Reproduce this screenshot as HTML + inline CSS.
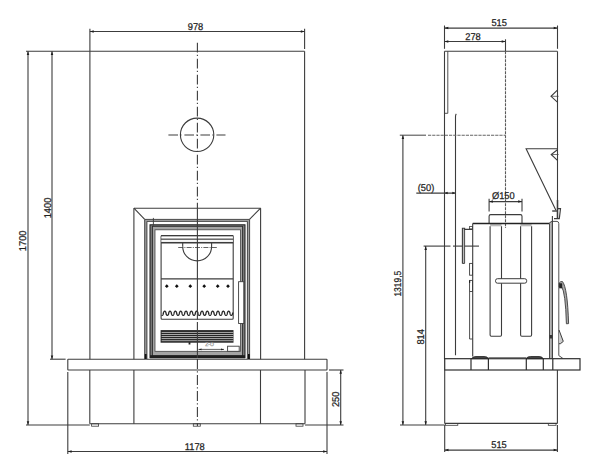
<!DOCTYPE html>
<html><head><meta charset="utf-8"><style>
html,body{margin:0;padding:0;background:#fff;}
svg{display:block;font-family:"Liberation Sans",sans-serif;text-rendering:geometricPrecision;}
</style></head><body>
<svg width="600" height="474" viewBox="0 0 600 474">
<rect width="600" height="474" fill="#fff"/>
<line x1="89.9" y1="28.8" x2="89.9" y2="51.3" stroke="#3c3c3c" stroke-width="1.1"/>
<line x1="304.6" y1="28.8" x2="304.6" y2="49" stroke="#3c3c3c" stroke-width="1.1"/>
<line x1="89.9" y1="31.5" x2="304.6" y2="31.5" stroke="#3c3c3c" stroke-width="1.1"/>
<polygon points="89.9,31.5 93.7,30.25 93.7,32.75" fill="#1e1e1e"/>
<polygon points="304.6,31.5 300.8,30.25 300.8,32.75" fill="#1e1e1e"/>
<g><text x="205.79" y="29.8" transform="scale(0.95 1)" font-size="9.8" text-anchor="middle" fill="#222" stroke="#222" stroke-width="0.25">978</text></g>
<line x1="26" y1="51.3" x2="304.6" y2="51.3" stroke="#3c3c3c" stroke-width="1.1"/>
<line x1="89.9" y1="51.3" x2="89.9" y2="359.2" stroke="#3c3c3c" stroke-width="1.1"/>
<line x1="304.6" y1="51.3" x2="304.6" y2="359.2" stroke="#3c3c3c" stroke-width="1.1"/>
<line x1="28" y1="51.3" x2="28" y2="425" stroke="#3c3c3c" stroke-width="1.1"/>
<polygon points="28,51.3 26.75,55.1 29.25,55.1" fill="#1e1e1e"/>
<polygon points="28,425 26.75,421.2 29.25,421.2" fill="#1e1e1e"/>
<line x1="52" y1="51.3" x2="52" y2="359.2" stroke="#3c3c3c" stroke-width="1.1"/>
<polygon points="52,51.3 50.75,55.1 53.25,55.1" fill="#1e1e1e"/>
<polygon points="52,359.2 50.75,355.4 53.25,355.4" fill="#1e1e1e"/>
<line x1="50" y1="359.2" x2="65.6" y2="359.2" stroke="#3c3c3c" stroke-width="1.1"/>
<g transform="rotate(-90 26.2 240.8)"><text x="27.58" y="240.8" transform="scale(0.95 1)" font-size="9.8" text-anchor="middle" fill="#222" stroke="#222" stroke-width="0.25">1700</text></g>
<g transform="rotate(-90 50.6 208)"><text x="53.26" y="208" transform="scale(0.95 1)" font-size="9.8" text-anchor="middle" fill="#222" stroke="#222" stroke-width="0.25">1400</text></g>
<rect x="67.8" y="359.2" width="259.2" height="10.8" stroke="#3c3c3c" stroke-width="1.1" fill="none" rx="0.5"/>
<line x1="89.8" y1="370" x2="89.8" y2="423.8" stroke="#3c3c3c" stroke-width="1.1"/>
<line x1="305" y1="370" x2="305" y2="423.8" stroke="#3c3c3c" stroke-width="1.1"/>
<line x1="89.8" y1="423.8" x2="305" y2="423.8" stroke="#3c3c3c" stroke-width="1.1"/>
<line x1="26" y1="425" x2="89.8" y2="425" stroke="#3c3c3c" stroke-width="1.1"/>
<line x1="133.9" y1="370" x2="133.9" y2="423.8" stroke="#3c3c3c" stroke-width="1.1"/>
<line x1="260.5" y1="370" x2="260.5" y2="423.8" stroke="#3c3c3c" stroke-width="1.1"/>
<rect x="91.6" y="423.8" width="7" height="2.4" stroke="#3c3c3c" stroke-width="0.8" fill="none" rx="0"/>
<rect x="193.3" y="423.8" width="7" height="2.4" stroke="#3c3c3c" stroke-width="0.8" fill="none" rx="0"/>
<rect x="296" y="423.8" width="7" height="2.4" stroke="#3c3c3c" stroke-width="0.8" fill="none" rx="0"/>
<line x1="329" y1="370" x2="343.5" y2="370" stroke="#3c3c3c" stroke-width="1.1"/>
<line x1="305" y1="425" x2="343.5" y2="425" stroke="#3c3c3c" stroke-width="1.1"/>
<line x1="340.7" y1="370" x2="340.7" y2="425" stroke="#3c3c3c" stroke-width="1.1"/>
<polygon points="340.7,370 339.45,373.8 341.95,373.8" fill="#1e1e1e"/>
<polygon points="340.7,425 339.45,421.2 341.95,421.2" fill="#1e1e1e"/>
<g transform="rotate(-90 339 399.3)"><text x="356.84" y="399.3" transform="scale(0.95 1)" font-size="9.8" text-anchor="middle" fill="#222" stroke="#222" stroke-width="0.25">250</text></g>
<line x1="67.8" y1="372" x2="67.8" y2="454" stroke="#3c3c3c" stroke-width="1.1"/>
<line x1="327" y1="372" x2="327" y2="454" stroke="#3c3c3c" stroke-width="1.1"/>
<line x1="67.8" y1="451.5" x2="327" y2="451.5" stroke="#3c3c3c" stroke-width="1.1"/>
<polygon points="67.8,451.5 71.6,450.25 71.6,452.75" fill="#1e1e1e"/>
<polygon points="327,451.5 323.2,450.25 323.2,452.75" fill="#1e1e1e"/>
<g><text x="205.05" y="449.7" transform="scale(0.95 1)" font-size="9.8" text-anchor="middle" fill="#222" stroke="#222" stroke-width="0.25">1178</text></g>
<circle cx="197.1" cy="134.8" r="16.7" fill="none" stroke="#3c3c3c" stroke-width="1.1"/>
<line x1="168.4" y1="135" x2="225.5" y2="135" stroke="#3c3c3c" stroke-width="1.1" stroke-dasharray="9.6 2.3 1.2 2.9"/>
<line x1="133.9" y1="208.2" x2="260.6" y2="208.2" stroke="#3c3c3c" stroke-width="1.1"/>
<line x1="133.9" y1="208.2" x2="133.9" y2="359.2" stroke="#3c3c3c" stroke-width="1.1"/>
<line x1="260.6" y1="208.2" x2="260.6" y2="359.2" stroke="#3c3c3c" stroke-width="1.1"/>
<line x1="133.9" y1="208.2" x2="144.7" y2="219.3" stroke="#3c3c3c" stroke-width="1.1"/>
<line x1="260.6" y1="208.2" x2="249.5" y2="219.3" stroke="#3c3c3c" stroke-width="1.1"/>
<rect x="144.5" y="219.3" width="105.5" height="2.2" fill="#a8a8a8"/>
<rect x="144.5" y="219.3" width="2.6" height="140" fill="#a0a0a0"/>
<rect x="247.2" y="219.3" width="2.6" height="140" fill="#a0a0a0"/>
<line x1="144.7" y1="219.4" x2="249.6" y2="219.4" stroke="#3c3c3c" stroke-width="0.9"/>
<line x1="146.9" y1="221.4" x2="247.4" y2="221.4" stroke="#3c3c3c" stroke-width="0.9"/>
<line x1="144.7" y1="219.4" x2="144.7" y2="359.2" stroke="#3c3c3c" stroke-width="0.9"/>
<line x1="146.9" y1="221.4" x2="146.9" y2="359.2" stroke="#3c3c3c" stroke-width="0.9"/>
<line x1="249.6" y1="219.4" x2="249.6" y2="359.2" stroke="#3c3c3c" stroke-width="0.9"/>
<line x1="247.4" y1="221.4" x2="247.4" y2="359.2" stroke="#3c3c3c" stroke-width="0.9"/>
<rect x="150" y="224.8" width="95" height="132.8" fill="#7c7c7c"/>
<rect x="152.4" y="226.3" width="90.2" height="129.5" fill="#a4a4a4"/>
<rect x="155" y="229.8" width="85.5" height="121.5" fill="#ffffff"/>
<rect x="150" y="224.8" width="95" height="132.8" stroke="#1a1a1a" stroke-width="1" fill="none" rx="0"/>
<rect x="152.4" y="226.3" width="90.2" height="129.7" stroke="#2a2a2a" stroke-width="0.9" fill="none" rx="0"/>
<rect x="155" y="229.8" width="85.5" height="121.5" stroke="#444" stroke-width="0.8" fill="none" rx="0"/>
<rect x="150" y="355.2" width="95" height="3" fill="#1e1e1e"/>
<line x1="153.4" y1="217.9" x2="153.4" y2="225.5" stroke="#3c3c3c" stroke-width="0.9"/>
<rect x="144.8" y="354" width="1.8" height="5" fill="#111"/>
<rect x="248" y="354" width="1.8" height="5" fill="#111"/>
<rect x="161.1" y="235.6" width="72.1" height="83.6" stroke="#3c3c3c" stroke-width="1.1" fill="none" rx="1"/>
<rect x="161.6" y="236.1" width="71.1" height="6.5" fill="#d8d8d8"/>
<rect x="161.6" y="236.6" width="71.1" height="1.6" fill="#fff"/>
<rect x="161.6" y="240.2" width="71.1" height="1.4" fill="#fff"/>
<line x1="161.1" y1="235.6" x2="233.2" y2="235.6" stroke="#3c3c3c" stroke-width="1.1"/>
<line x1="161.1" y1="239.2" x2="233.2" y2="239.2" stroke="#3c3c3c" stroke-width="1"/>
<line x1="161.1" y1="242.8" x2="233.2" y2="242.8" stroke="#3c3c3c" stroke-width="1.4"/>
<line x1="161.1" y1="278.9" x2="233.2" y2="278.9" stroke="#3c3c3c" stroke-width="1.1"/>
<path d="M182.7,246.4 A14.4,14.4 0 0 0 211.6,246.4 L211.6,243" stroke="#3c3c3c" stroke-width="1.1" fill="none"/>
<path d="M182.7,246.4 L182.7,243" stroke="#3c3c3c" stroke-width="1.1" fill="none"/>
<line x1="178.2" y1="247.5" x2="217" y2="247.5" stroke="#3c3c3c" stroke-width="0.8" stroke-dasharray="5 1.2 1 1.2"/>
<path d="M164.9,286.2 L166.8,284.3 L168.7,286.2 L166.8,288.1 Z" fill="#111"/>
<path d="M174.9,286.2 L176.8,284.3 L178.7,286.2 L176.8,288.1 Z" fill="#111"/>
<path d="M188.4,286.2 L190.3,284.3 L192.2,286.2 L190.3,288.1 Z" fill="#111"/>
<path d="M202.3,286.2 L204.2,284.3 L206.1,286.2 L204.2,288.1 Z" fill="#111"/>
<path d="M215.8,286.2 L217.7,284.3 L219.6,286.2 L217.7,288.1 Z" fill="#111"/>
<path d="M226.1,286.2 L228,284.3 L229.9,286.2 L228,288.1 Z" fill="#111"/>
<polyline points="161.6,315.25 161.74,315.33 161.88,315.38 162.03,315.4 162.17,315.39 162.31,315.34 162.45,315.26 162.6,315.14 162.74,314.99 162.88,314.8 163.02,314.56 163.17,314.25 163.31,313.78 163.45,312.71 163.59,312.29 163.74,312 163.88,311.76 164.02,311.58 164.16,311.43 164.31,311.33 164.45,311.25 164.59,311.21 164.73,311.2 164.88,311.22 165.02,311.28 165.16,311.37 165.3,311.5 165.44,311.66 165.59,311.86 165.73,312.12 165.87,312.46 166.01,313.05 166.16,314.03 166.3,314.4 166.44,314.68 166.58,314.89 166.73,315.07 166.87,315.2 167.01,315.3 167.15,315.36 167.3,315.4 167.44,315.4 167.58,315.36 167.72,315.3 167.87,315.2 168.01,315.06 168.15,314.89 168.29,314.67 168.44,314.39 168.58,314.01 168.72,313.01 168.86,312.45 169,312.11 169.15,311.86 169.29,311.65 169.43,311.49 169.57,311.37 169.72,311.28 169.86,311.22 170,311.2 170.14,311.21 170.29,311.25 170.43,311.33 170.57,311.44 170.71,311.58 170.86,311.77 171,312 171.14,312.3 171.28,312.73 171.43,313.8 171.57,314.26 171.71,314.57 171.85,314.81 172,315 172.14,315.15 172.28,315.26 172.42,315.34 172.56,315.39 172.71,315.4 172.85,315.38 172.99,315.33 173.13,315.24 173.28,315.12 173.42,314.97 173.56,314.77 173.7,314.52 173.85,314.19 173.99,313.68 174.13,312.64 174.27,312.24 174.42,311.96 174.56,311.74 174.7,311.56 174.84,311.42 174.99,311.31 175.13,311.24 175.27,311.21 175.41,311.2 175.56,311.23 175.7,311.29 175.84,311.39 175.98,311.52 176.12,311.68 176.27,311.9 176.41,312.16 176.55,312.52 176.69,313.37 176.84,314.09 176.98,314.44 177.12,314.71 177.26,314.92 177.41,315.09 177.55,315.22 177.69,315.31 177.83,315.37 177.98,315.4 178.12,315.39 178.26,315.36 178.4,315.28 178.55,315.18 178.69,315.04 178.83,314.86 178.97,314.63 179.12,314.35 179.26,313.95 179.4,312.9 179.54,312.4 179.68,312.07 179.83,311.83 179.97,311.63 180.11,311.47 180.25,311.35 180.4,311.27 180.54,311.22 180.68,311.2 180.82,311.21 180.97,311.26 181.11,311.34 181.25,311.46 181.39,311.61 181.54,311.8 181.68,312.04 181.82,312.35 181.96,312.81 182.11,313.88 182.25,314.31 182.39,314.6 182.53,314.84 182.68,315.02 182.82,315.17 182.96,315.27 183.1,315.35 183.24,315.39 183.39,315.4 183.53,315.38 183.67,315.32 183.81,315.23 183.96,315.1 184.1,314.94 184.24,314.74 184.38,314.48 184.53,314.14 184.67,313.56 184.81,312.57 184.95,312.2 185.1,311.92 185.24,311.71 185.38,311.53 185.52,311.4 185.67,311.3 185.81,311.24 185.95,311.2 186.09,311.2 186.24,311.24 186.38,311.3 186.52,311.4 186.66,311.54 186.8,311.71 186.95,311.93 187.09,312.21 187.23,312.58 187.37,313.58 187.52,314.15 187.66,314.49 187.8,314.74 187.94,314.95 188.09,315.11 188.23,315.23 188.37,315.32 188.51,315.38 188.66,315.4 188.8,315.39 188.94,315.35 189.08,315.27 189.23,315.16 189.37,315.02 189.51,314.83 189.65,314.6 189.8,314.3 189.94,313.87 190.08,312.8 190.22,312.34 190.36,312.03 190.51,311.79 190.65,311.6 190.79,311.45 190.93,311.34 191.08,311.26 191.22,311.21 191.36,311.2 191.5,311.22 191.65,311.27 191.79,311.36 191.93,311.48 192.07,311.63 192.22,311.83 192.36,312.08 192.5,312.4 192.64,312.91 192.79,313.96 192.93,314.35 193.07,314.64 193.21,314.86 193.36,315.04 193.5,315.18 193.64,315.29 193.78,315.36 193.92,315.39 194.07,315.4 194.21,315.37 194.35,315.31 194.49,315.21 194.64,315.08 194.78,314.92 194.92,314.7 195.06,314.44 195.21,314.08 195.35,313.24 195.49,312.51 195.63,312.16 195.78,311.89 195.92,311.68 196.06,311.51 196.2,311.38 196.35,311.29 196.49,311.23 196.63,311.2 196.77,311.21 196.92,311.24 197.06,311.32 197.2,311.42 197.34,311.56 197.48,311.74 197.63,311.97 197.77,312.25 197.91,312.65 198.05,313.7 198.2,314.2 198.34,314.53 198.48,314.77 198.62,314.97 198.77,315.13 198.91,315.25 199.05,315.33 199.19,315.38 199.34,315.4 199.48,315.39 199.62,315.34 199.76,315.26 199.91,315.14 200.05,314.99 200.19,314.8 200.33,314.56 200.48,314.25 200.62,313.79 200.76,312.72 200.9,312.29 201.04,312 201.19,311.77 201.33,311.58 201.47,311.44 201.61,311.33 201.76,311.25 201.9,311.21 202.04,311.2 202.18,311.22 202.33,311.28 202.47,311.37 202.61,311.5 202.75,311.66 202.9,311.86 203.04,312.12 203.18,312.46 203.32,313.04 203.47,314.02 203.61,314.4 203.75,314.67 203.89,314.89 204.04,315.06 204.18,315.2 204.32,315.3 204.46,315.36 204.6,315.4 204.75,315.4 204.89,315.36 205.03,315.3 205.17,315.2 205.32,315.06 205.46,314.89 205.6,314.67 205.74,314.39 205.89,314.02 206.03,313.02 206.17,312.45 206.31,312.12 206.46,311.86 206.6,311.65 206.74,311.49 206.88,311.37 207.03,311.28 207.17,311.22 207.31,311.2 207.45,311.21 207.6,311.25 207.74,311.33 207.88,311.44 208.02,311.58 208.16,311.77 208.31,312 208.45,312.3 208.59,312.73 208.73,313.8 208.88,314.25 209.02,314.56 209.16,314.8 209.3,315 209.45,315.15 209.59,315.26 209.73,315.34 209.87,315.39 210.02,315.4 210.16,315.38 210.3,315.33 210.44,315.24 210.59,315.13 210.73,314.97 210.87,314.77 211.01,314.52 211.16,314.2 211.3,313.69 211.44,312.64 211.58,312.25 211.72,311.96 211.87,311.74 212.01,311.56 212.15,311.42 212.29,311.31 212.44,311.24 212.58,311.21 212.72,311.2 212.86,311.23 213.01,311.29 213.15,311.39 213.29,311.52 213.43,311.68 213.58,311.89 213.72,312.16 213.86,312.52 214,313.34 214.15,314.09 214.29,314.44 214.43,314.71 214.57,314.92 214.72,315.09 214.86,315.22 215,315.31 215.14,315.37 215.28,315.4 215.43,315.39 215.57,315.36 215.71,315.29 215.85,315.18 216,315.04 216.14,314.86 216.28,314.64 216.42,314.35 216.57,313.95 216.71,312.9 216.85,312.4 216.99,312.08 217.14,311.83 217.28,311.63 217.42,311.47 217.56,311.35 217.71,311.27 217.85,311.22 217.99,311.2 218.13,311.21 218.28,311.26 218.42,311.34 218.56,311.46 218.7,311.61 218.84,311.8 218.99,312.04 219.13,312.35 219.27,312.81 219.41,313.88 219.56,314.3 219.7,314.6 219.84,314.83 219.98,315.02 220.13,315.16 220.27,315.27 220.41,315.35 220.55,315.39 220.7,315.4 220.84,315.38 220.98,315.32 221.12,315.23 221.27,315.11 221.41,314.94 221.55,314.74 221.69,314.48 221.84,314.14 221.98,313.57 222.12,312.58 222.26,312.2 222.4,311.93 222.55,311.71 222.69,311.54 222.83,311.4 222.97,311.3 223.12,311.24 223.26,311.2 223.4,311.2 223.54,311.24 223.69,311.3 223.83,311.4 223.97,311.54 224.11,311.71 224.26,311.93 224.4,312.2 224.54,312.58 224.68,313.57 224.83,314.15 224.97,314.48 225.11,314.74 225.25,314.94 225.4,315.11 225.54,315.23 225.68,315.32 225.82,315.38 225.96,315.4 226.11,315.39 226.25,315.35 226.39,315.27 226.53,315.16 226.68,315.02 226.82,314.83 226.96,314.6 227.1,314.3 227.25,313.88 227.39,312.81 227.53,312.35 227.67,312.04 227.82,311.8 227.96,311.61 228.1,311.45 228.24,311.34 228.39,311.26 228.53,311.21 228.67,311.2 228.81,311.22 228.96,311.27 229.1,311.36 229.24,311.47 229.38,311.63 229.52,311.83 229.67,312.08 229.81,312.4 229.95,312.91 230.09,313.95 230.24,314.35 230.38,314.64 230.52,314.86 230.66,315.04 230.81,315.18 230.95,315.29 231.09,315.36 231.23,315.39 231.38,315.4 231.52,315.37 231.66,315.31 231.8,315.21 231.95,315.08 232.09,314.92 232.23,314.71 232.37,314.44 232.52,314.08 232.66,313.29 232.8,312.51" fill="none" stroke="#2a2a2a" stroke-width="1.3"/>
<rect x="160.6" y="330.1" width="72.9" height="12.6" fill="#262626"/>
<rect x="161.6" y="331.95" width="71.9" height="0.9" fill="#b8b8b8"/>
<rect x="161.6" y="334.05" width="71.9" height="0.9" fill="#b8b8b8"/>
<rect x="161.6" y="336.05" width="71.9" height="0.9" fill="#b8b8b8"/>
<rect x="161.6" y="338.15" width="71.9" height="0.9" fill="#b8b8b8"/>
<rect x="161.6" y="340.25" width="71.9" height="0.9" fill="#b8b8b8"/>
<rect x="188.6" y="342.2" width="1.8" height="2.3" fill="#222"/>
<rect x="238.6" y="281.7" width="5.2" height="41.8" stroke="#3c3c3c" stroke-width="0.9" fill="#fff" rx="0"/>
<rect x="227.6" y="346.2" width="11.6" height="5.1" stroke="#3c3c3c" stroke-width="0.9" fill="#fff" rx="0"/>
<line x1="198.5" y1="349.4" x2="224" y2="349.4" stroke="#3c3c3c" stroke-width="0.8"/>
<polygon points="198.5,349.4 201.5,348.5 201.5,350.3" fill="#1e1e1e"/>
<polygon points="224,349.4 221,348.5 221,350.3" fill="#1e1e1e"/>
<g><text x="209.5" y="346" transform="scale(1.0 1)" font-size="5" text-anchor="middle" fill="#999" stroke="#999" stroke-width="0.25">Z-O</text></g>
<line x1="197.4" y1="42.8" x2="197.4" y2="208.2" stroke="#3c3c3c" stroke-width="1.1" stroke-dasharray="9.6 2.3 1.2 2.9"/>
<line x1="197.4" y1="208.2" x2="197.4" y2="319.5" stroke="#3c3c3c" stroke-width="1.1"/>
<line x1="197.4" y1="322" x2="197.4" y2="358" stroke="#3c3c3c" stroke-width="1.1"/>
<line x1="197.4" y1="359" x2="197.4" y2="426" stroke="#3c3c3c" stroke-width="1.1" stroke-dasharray="10 2.2 1.2 2.6"/>
<line x1="444.5" y1="25.5" x2="444.5" y2="48.8" stroke="#3c3c3c" stroke-width="1.1"/>
<line x1="557.5" y1="25.5" x2="557.5" y2="48.8" stroke="#3c3c3c" stroke-width="1.1"/>
<line x1="444.5" y1="28.1" x2="557.5" y2="28.1" stroke="#3c3c3c" stroke-width="1.1"/>
<polygon points="444.5,28.1 448.3,26.85 448.3,29.35" fill="#1e1e1e"/>
<polygon points="557.5,28.1 553.7,26.85 553.7,29.35" fill="#1e1e1e"/>
<g><text x="525.47" y="26.4" transform="scale(0.95 1)" font-size="9.8" text-anchor="middle" fill="#222" stroke="#222" stroke-width="0.25">515</text></g>
<line x1="444.5" y1="41.5" x2="505.5" y2="41.5" stroke="#3c3c3c" stroke-width="1.1"/>
<polygon points="444.5,41.5 448.3,40.25 448.3,42.75" fill="#1e1e1e"/>
<polygon points="505.5,41.5 501.7,40.25 501.7,42.75" fill="#1e1e1e"/>
<line x1="505.5" y1="39.3" x2="505.5" y2="51.3" stroke="#3c3c3c" stroke-width="1.1"/>
<g><text x="497.89" y="40" transform="scale(0.95 1)" font-size="9.8" text-anchor="middle" fill="#222" stroke="#222" stroke-width="0.25">278</text></g>
<line x1="444.5" y1="51.3" x2="557.4" y2="51.3" stroke="#3c3c3c" stroke-width="1.1"/>
<line x1="444.5" y1="51.3" x2="444.5" y2="359.3" stroke="#3c3c3c" stroke-width="1.1"/>
<line x1="557.5" y1="51.3" x2="557.5" y2="218.5" stroke="#3c3c3c" stroke-width="1.1"/>
<line x1="447.8" y1="51.3" x2="447.8" y2="113.3" stroke="#3c3c3c" stroke-width="0.9"/>
<line x1="444.5" y1="113.3" x2="447.8" y2="113.3" stroke="#3c3c3c" stroke-width="0.9"/>
<path d="M456.3,113.8 Q455.5,114.6 455.5,116.5 L455.5,355.3" stroke="#3c3c3c" stroke-width="1.1" fill="none"/>
<line x1="505.5" y1="51.3" x2="505.5" y2="228" stroke="#5a5a5a" stroke-width="1.1" stroke-dasharray="3 1"/>
<line x1="399.8" y1="135.2" x2="426" y2="135.2" stroke="#555" stroke-width="1.1"/>
<line x1="428" y1="135.2" x2="505.5" y2="135.2" stroke="#666" stroke-width="1.1" stroke-dasharray="3.2 1"/>
<path d="M557.4,90.2 L551,96.3 L557.4,102.2" stroke="#3c3c3c" stroke-width="1.1" fill="none"/>
<line x1="551" y1="96.3" x2="558.6" y2="96.3" stroke="#3c3c3c" stroke-width="0.7"/>
<path d="M557.4,149.7 L551.2,154.5 L557.4,160.3" stroke="#3c3c3c" stroke-width="1.1" fill="none"/>
<line x1="551.2" y1="154.5" x2="558.6" y2="154.5" stroke="#3c3c3c" stroke-width="0.7"/>
<path d="M557.4,148.7 L526.1,148.7 L555.9,210.3" stroke="#3c3c3c" stroke-width="1.1" fill="none"/>
<line x1="552.2" y1="211" x2="557.6" y2="211" stroke="#3c3c3c" stroke-width="1.4"/>
<path d="M557.6,208.7 L560.5,208.7 L559.3,218.6 L554,218.6" stroke="#3c3c3c" stroke-width="1.2" fill="none"/>
<line x1="557.5" y1="200" x2="557.5" y2="218.5" stroke="#3c3c3c" stroke-width="1.5"/>
<line x1="416.3" y1="193.1" x2="455.5" y2="193.1" stroke="#3c3c3c" stroke-width="1.1"/>
<polygon points="444.5,193.1 447.7,191.85 447.7,194.35" fill="#1e1e1e"/>
<polygon points="455.5,193.1 452.3,191.85 452.3,194.35" fill="#1e1e1e"/>
<g><text x="448.42" y="190.9" transform="scale(0.95 1)" font-size="9.8" text-anchor="middle" fill="#222" stroke="#222" stroke-width="0.25">(50)</text></g>
<line x1="402.9" y1="135.2" x2="402.9" y2="425" stroke="#3c3c3c" stroke-width="1.1"/>
<polygon points="402.9,135.2 401.65,139 404.15,139" fill="#1e1e1e"/>
<polygon points="402.9,425 401.65,421.2 404.15,421.2" fill="#1e1e1e"/>
<g transform="rotate(-90 400.8 283.7)"><text x="466.05" y="283.7" transform="scale(0.86 1)" font-size="9.8" text-anchor="middle" fill="#222" stroke="#222" stroke-width="0.25">1319,5</text></g>
<line x1="423.6" y1="246.1" x2="450.5" y2="246.1" stroke="#3c3c3c" stroke-width="1.1"/>
<line x1="453" y1="246.1" x2="479" y2="246.1" stroke="#3c3c3c" stroke-width="1.1"/>
<line x1="425.7" y1="246.1" x2="425.7" y2="425" stroke="#3c3c3c" stroke-width="1.1"/>
<polygon points="425.7,246.1 424.45,249.9 426.95,249.9" fill="#1e1e1e"/>
<polygon points="425.7,425 424.45,421.2 426.95,421.2" fill="#1e1e1e"/>
<g transform="rotate(-90 424.1 336.8)"><text x="446.42" y="336.8" transform="scale(0.95 1)" font-size="9.8" text-anchor="middle" fill="#222" stroke="#222" stroke-width="0.25">814</text></g>
<line x1="400" y1="425" x2="444.7" y2="425" stroke="#3c3c3c" stroke-width="1.1"/>
<line x1="489.1" y1="198.8" x2="489.1" y2="211.5" stroke="#3c3c3c" stroke-width="1.1"/>
<line x1="522" y1="198.8" x2="522" y2="211.5" stroke="#3c3c3c" stroke-width="1.1"/>
<line x1="489.1" y1="201.6" x2="522" y2="201.6" stroke="#3c3c3c" stroke-width="1.1"/>
<polygon points="489.1,201.6 492.9,200.35 492.9,202.85" fill="#1e1e1e"/>
<polygon points="522,201.6 518.2,200.35 518.2,202.85" fill="#1e1e1e"/>
<g><text x="529.79" y="198.6" transform="scale(0.95 1)" font-size="9.8" text-anchor="middle" fill="#222" stroke="#222" stroke-width="0.25">Ø150</text></g>
<path d="M489.1,223.5 L489.1,216.2 Q489.1,214.6 490.7,214.6 L520.4,214.6 Q522,214.6 522,216.2 L522,223.5" stroke="#3c3c3c" stroke-width="1.1" fill="none"/>
<rect x="490.1" y="224" width="11.4" height="2.3" fill="#bbb"/>
<rect x="520.4" y="224" width="11.2" height="2.3" fill="#bbb"/>
<line x1="472.7" y1="223.5" x2="549.5" y2="223.5" stroke="#222" stroke-width="1.3"/>
<line x1="472.7" y1="223.5" x2="472.7" y2="356.5" stroke="#3c3c3c" stroke-width="1.1"/>
<path d="M490.1,226.3 L490.1,335 Q490.1,336.2 491.3,336.2 L500.3,336.2 Q501.5,336.2 501.5,335 L501.5,226.3" stroke="#3c3c3c" stroke-width="1.1" fill="none"/>
<path d="M520.6,226.3 L520.6,335 Q520.6,336.2 521.8,336.2 L530.4,336.2 Q531.6,336.2 531.6,335 L531.6,226.3" stroke="#3c3c3c" stroke-width="1.1" fill="none"/>
<rect x="495.5" y="278.7" width="31.2" height="4.5" stroke="#3c3c3c" stroke-width="1" fill="#fff" rx="2"/>
<rect x="549.4" y="222" width="2.6" height="136.6" fill="#b4b4b4"/>
<line x1="549.5" y1="223.5" x2="549.5" y2="358.6" stroke="#3c3c3c" stroke-width="0.9"/>
<line x1="552.4" y1="215.9" x2="552.4" y2="358.6" stroke="#3c3c3c" stroke-width="1.1"/>
<path d="M549.5,223.5 Q550,221.5 552,221.4 L557,221.4 Q558.8,221.6 558.8,223.5 L558.8,355.6 L562.8,358.3" stroke="#3c3c3c" stroke-width="0.9" fill="none"/>
<rect x="549.6" y="335" width="2.6" height="3.5" fill="#333"/>
<path d="M559.2,283 Q560.5,281 562.5,281.6 Q567.5,288 568.6,323.6 L566.4,323.8 Q565.5,292 561.5,286.5 L559.2,287 Z" stroke="#3c3c3c" stroke-width="0.9" fill="#aaa"/>
<rect x="559.2" y="283.3" width="3" height="5" fill="#222"/>
<path d="M559,330 L563.3,341.4 L560.4,343.7 L559,343.7" stroke="#3c3c3c" stroke-width="1" fill="#ccc"/>
<line x1="562" y1="322" x2="562" y2="322" stroke="#3c3c3c" stroke-width="0"/>
<rect x="462.6" y="228.4" width="2" height="34.8" fill="#bbb"/>
<path d="M462.4,263.4 L462.4,228.2 L464.6,228.2 L464.6,229.4 L472.6,229.4" stroke="#3c3c3c" stroke-width="1.1" fill="none"/>
<line x1="464.6" y1="229.4" x2="464.6" y2="263.4" stroke="#3c3c3c" stroke-width="0.9"/>
<line x1="462.4" y1="263.4" x2="464.6" y2="263.4" stroke="#3c3c3c" stroke-width="1"/>
<rect x="469.4" y="226.6" width="3.2" height="2.4" stroke="#3c3c3c" stroke-width="0.8" fill="none" rx="0"/>
<rect x="469.6" y="263.4" width="2.9" height="11.8" stroke="#3c3c3c" stroke-width="0.9" fill="none" rx="0"/>
<rect x="469.6" y="280.4" width="2.9" height="11.1" stroke="#3c3c3c" stroke-width="0.9" fill="none" rx="0"/>
<rect x="469" y="280.4" width="1.2" height="2.5" fill="#222"/>
<line x1="469.6" y1="291.5" x2="469.6" y2="339" stroke="#3c3c3c" stroke-width="0.9"/>
<line x1="469.6" y1="339" x2="472.6" y2="339" stroke="#3c3c3c" stroke-width="0.9"/>
<rect x="444.7" y="358.7" width="135.3" height="11.3" stroke="#2e2e2e" stroke-width="1.2" fill="none" rx="0"/>
<line x1="471" y1="358.7" x2="471" y2="370" stroke="#2e2e2e" stroke-width="1.2"/>
<line x1="488.4" y1="358.7" x2="488.4" y2="370" stroke="#2e2e2e" stroke-width="1.2"/>
<line x1="526.3" y1="358.7" x2="526.3" y2="370" stroke="#2e2e2e" stroke-width="1.2"/>
<line x1="543.3" y1="358.7" x2="543.3" y2="370" stroke="#2e2e2e" stroke-width="1.2"/>
<line x1="552.8" y1="358.7" x2="552.8" y2="370" stroke="#2e2e2e" stroke-width="1.2"/>
<line x1="488.4" y1="357.7" x2="526.3" y2="357.7" stroke="#555" stroke-width="0.9"/>
<path d="M471.7,358.7 Q472.5,356.5 476,356.5 L484,356.5 Q487.8,356.5 488.3,358.7 Z" stroke="#222" stroke-width="0.8" fill="#444"/>
<path d="M526.3,358.7 Q527,356.5 530.5,356.5 L539,356.5 Q542.5,356.5 543,358.7 Z" stroke="#222" stroke-width="0.8" fill="#444"/>
<line x1="444.7" y1="370" x2="444.7" y2="423.4" stroke="#3c3c3c" stroke-width="1.1"/>
<line x1="557.4" y1="370" x2="557.4" y2="423.4" stroke="#3c3c3c" stroke-width="1.1"/>
<line x1="444.7" y1="423.4" x2="557.4" y2="423.4" stroke="#3c3c3c" stroke-width="1.1"/>
<rect x="445.4" y="423.4" width="12.4" height="1.9" stroke="#3c3c3c" stroke-width="0.8" fill="none" rx="0"/>
<rect x="548.3" y="423.4" width="7.7" height="1.9" stroke="#3c3c3c" stroke-width="0.8" fill="none" rx="0"/>
<line x1="444.7" y1="425" x2="444.7" y2="452" stroke="#3c3c3c" stroke-width="1.1"/>
<line x1="557.4" y1="425" x2="557.4" y2="452" stroke="#3c3c3c" stroke-width="1.1"/>
<line x1="444.7" y1="450.1" x2="557.4" y2="450.1" stroke="#3c3c3c" stroke-width="1.1"/>
<polygon points="444.7,450.1 448.5,448.85 448.5,451.35" fill="#1e1e1e"/>
<polygon points="557.4,450.1 553.6,448.85 553.6,451.35" fill="#1e1e1e"/>
<g><text x="525.26" y="447.9" transform="scale(0.95 1)" font-size="9.8" text-anchor="middle" fill="#222" stroke="#222" stroke-width="0.25">515</text></g>
</svg>
</body></html>
